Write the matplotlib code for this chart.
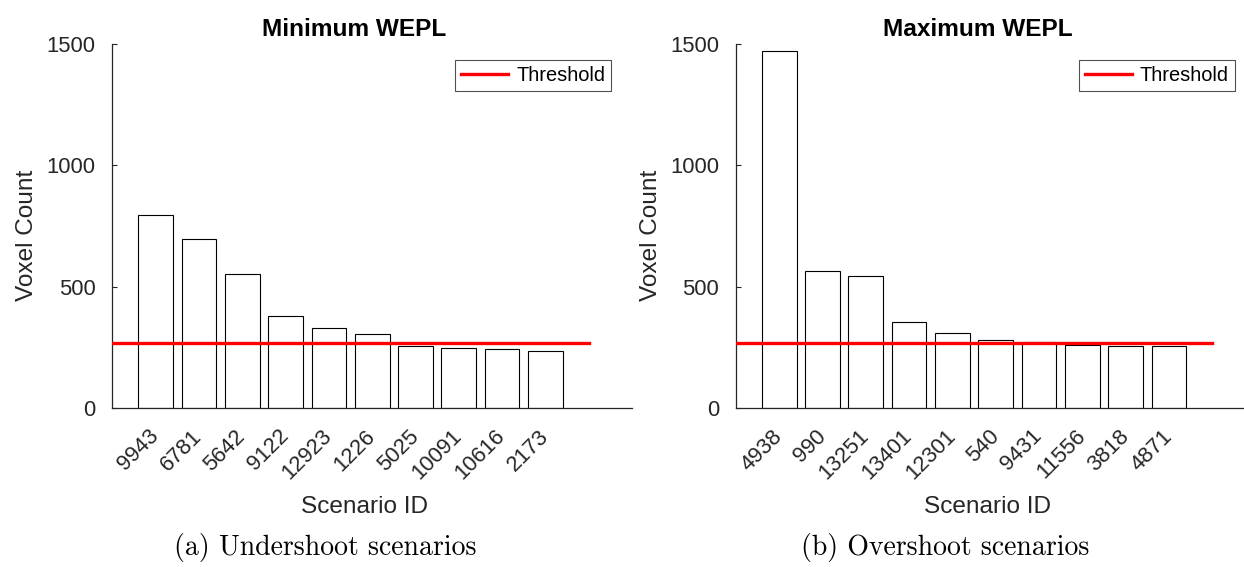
"""Voxel count per scenario for min / max WEPL, with threshold line."""
import matplotlib

matplotlib.use("Agg")
import matplotlib.pyplot as plt
import numpy as np

plt.rcParams["font.family"] = ["Liberation Sans", "DejaVu Sans"]

THRESHOLD = 267

under_ids = ["9943", "6781", "5642", "9122", "12923", "1226", "5025", "10091", "10616", "2173"]
under_counts = [797, 698, 552, 380, 328, 304, 256, 247, 243, 234]

over_ids = ["4938", "990", "13251", "13401", "12301", "540", "9431", "11556", "3818", "4871"]
over_counts = [1472, 563, 543, 356, 308, 280, 271, 259, 256, 255]

GREY = "#262626"
W, H = 1244, 567


def panel(ax, ids, counts, title):
    x = np.arange(1, len(ids) + 1)
    ax.bar(x, counts, width=0.8, facecolor="white", edgecolor="black", linewidth=0.8, zorder=2)
    ax.plot([0, len(ids) + 1], [THRESHOLD, THRESHOLD], color="red", lw=2.4,
            label="Threshold", zorder=3)
    ax.set_xlim(0, 12)
    ax.set_ylim(0, 1500)
    ax.set_yticks([0, 500, 1000, 1500])
    ax.set_xticks(x)
    ax.set_xticklabels(ids, rotation=45, ha="right", va="center", rotation_mode="anchor")
    ax.tick_params(axis="y", direction="in", length=3.6, width=0.8, colors=GREY,
                   labelsize=15.8, pad=12)
    ax.tick_params(axis="x", length=0, colors=GREY, labelsize=15.8, pad=18)
    for s in ("top", "right"):
        ax.spines[s].set_visible(False)
    for s in ("left", "bottom"):
        ax.spines[s].set_color(GREY)
        ax.spines[s].set_linewidth(0.9)
    ax.set_xlabel("Scenario ID", fontsize=17.6, color=GREY)
    ax.xaxis.label.set_va("center")
    ax.xaxis.set_label_coords(0.485, -0.272)
    ax.set_ylabel("Voxel Count", fontsize=17.6, color=GREY)
    ax.yaxis.label.set_va("center")
    ax.yaxis.set_label_coords(-0.164, 0.473)
    ax.set_title(title, fontsize=17.6, fontweight="bold", x=0.466, y=1.04, va="center", pad=0)
    leg = ax.legend(loc="upper right", bbox_to_anchor=(0.96, 0.956), fontsize=14.4,
                    frameon=True, fancybox=False, handlelength=2.35, handletextpad=0.4,
                    borderpad=0.3, borderaxespad=0)
    leg.get_frame().set_edgecolor(GREY)
    leg.get_frame().set_linewidth(0.8)


fig = plt.figure(figsize=(W / 100, H / 100), dpi=100)
ax1 = fig.add_axes([112.4 / W, 159 / H, 519.6 / W, 364 / H])
ax2 = fig.add_axes([735.9 / W, 159 / H, 519.6 / W, 364 / H])

panel(ax1, under_ids, under_counts, "Minimum WEPL")
panel(ax2, over_ids, over_counts, "Maximum WEPL")

cap = dict(fontsize=20, family="cmr10", ha="center", va="center")
fig.text(325 / W, 1 - 548 / H, "(a) Undershoot scenarios", **cap)
fig.text(945 / W, 1 - 548 / H, "(b) Overshoot scenarios", **cap)

fig.savefig("out.png", dpi=100)
